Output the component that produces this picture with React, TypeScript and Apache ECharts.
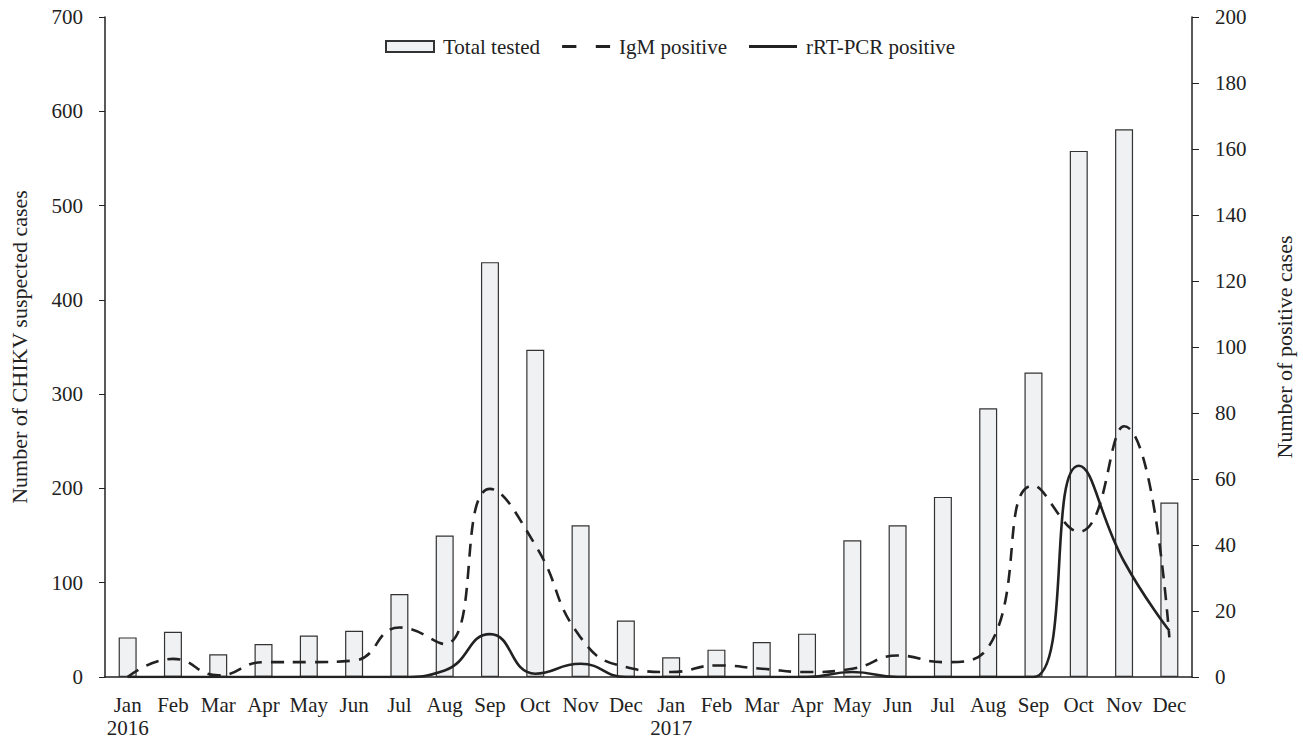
import React, { useEffect, useRef } from "react";
import * as echarts from "echarts";

const months = ["Jan\n2016", "Feb", "Mar", "Apr", "May", "Jun", "Jul", "Aug", "Sep", "Oct", "Nov", "Dec",
  "Jan\n2017", "Feb", "Mar", "Apr", "May", "Jun", "Jul", "Aug", "Sep", "Oct", "Nov", "Dec"];
const totalTested = [42, 48, 24, 35, 44, 49, 88, 150, 440, 347, 161, 60,
  21, 29, 37, 46, 145, 161, 191, 285, 323, 558, 581, 185];
const igmPositive = [0, 5.5, 0.5, 4.5, 4.5, 5, 15, 10, 57, 40, 12, 3,
  1.5, 3.5, 2.5, 1.5, 2.5, 6.5, 4.5, 9, 58, 44, 76, 12];
const pcrPositive = [0, 0, 0, 0, 0, 0, 0, 2, 13, 1, 4, 0,
  0, 0, 0, 0, 1.5, 0, 0, 0, 0, 64, 35, 14];
const leftTicks = { min: 0, max: 700, interval: 100 };
const rightTicks = { min: 0, max: 200, interval: 20 };

const FONT = "Liberation Serif";
const INK = "#222";
const DASH_ICON = "path://M0,0 H14 V3 H0 Z M33,0 H47 V3 H33 Z";
const SOLID_ICON = "path://M0,0 H47 V3 H0 Z";

export default function App() {
  const ref = useRef<HTMLDivElement>(null);
  useEffect(() => {
    document.body.style.margin = "0";
    const chart = echarts.init(ref.current!, null, { renderer: "svg" });
    chart.setOption({
      animation: false,
      backgroundColor: "#fff",
      textStyle: { fontFamily: FONT, color: INK },
      legend: {
        top: 31,
        left: 380,
        itemWidth: 48,
        itemHeight: 11,
        itemGap: 22,
        textStyle: { fontFamily: FONT, fontSize: 21, color: INK, padding: [0, 0, 0, 4] },
        data: [
          { name: "Total tested", icon: "rect" },
          { name: "IgM positive", icon: DASH_ICON },
          { name: "rRT-PCR positive", icon: SOLID_ICON },
        ],
      },
      grid: { left: 99, right: 108, top: 17, bottom: 63 },
      xAxis: {
        type: "category",
        data: months,
        boundaryGap: true,
        axisLine: { lineStyle: { color: INK, width: 1.5 } },
        axisTick: { alignWithLabel: true, length: 4, lineStyle: { color: INK } },
        axisLabel: { fontFamily: FONT, fontSize: 21, color: INK, margin: 16, lineHeight: 23, interval: 0 },
        splitLine: { show: false },
      },
      yAxis: [
        {
          type: "value",
          ...leftTicks,
          name: "Number of CHIKV suspected cases",
          nameLocation: "middle",
          nameGap: 75,
          nameTextStyle: { fontFamily: FONT, fontSize: 22, color: INK },
          axisLine: { show: true, lineStyle: { color: INK, width: 1.5 } },
          axisTick: { show: true, length: 6, lineStyle: { color: INK } },
          axisLabel: { fontFamily: FONT, fontSize: 21, color: INK, margin: 22 },
          splitLine: { show: false },
        },
        {
          type: "value",
          ...rightTicks,
          position: "right",
          name: "Number of positive cases",
          nameLocation: "middle",
          nameGap: 81,
          nameRotate: 90,
          nameTextStyle: { fontFamily: FONT, fontSize: 22, color: INK },
          axisLine: { show: true, lineStyle: { color: INK, width: 1.5 } },
          axisTick: { show: true, length: 7, lineStyle: { color: INK } },
          axisLabel: { fontFamily: FONT, fontSize: 21, color: INK, margin: 23 },
          splitLine: { show: false },
        },
      ],
      series: [
        {
          name: "Total tested",
          type: "bar",
          yAxisIndex: 0,
          data: totalTested,
          barWidth: 18,
          itemStyle: { color: "#f0f1f3", borderColor: "#333", borderWidth: 1.2 },
        },
        {
          name: "IgM positive",
          type: "line",
          yAxisIndex: 1,
          data: igmPositive,
          smooth: 0.5,
          symbol: "none",
          lineStyle: { color: INK, width: 2.6, type: [13, 9] },
          itemStyle: { color: INK },
        },
        {
          name: "rRT-PCR positive",
          type: "line",
          yAxisIndex: 1,
          data: pcrPositive,
          smooth: 0.5,
          symbol: "none",
          lineStyle: { color: INK, width: 2.6 },
          itemStyle: { color: INK },
        },
      ],
    });
    return () => chart.dispose();
  }, []);
  return <div ref={ref} style={{ width: 1303, height: 740 }} />;
}
